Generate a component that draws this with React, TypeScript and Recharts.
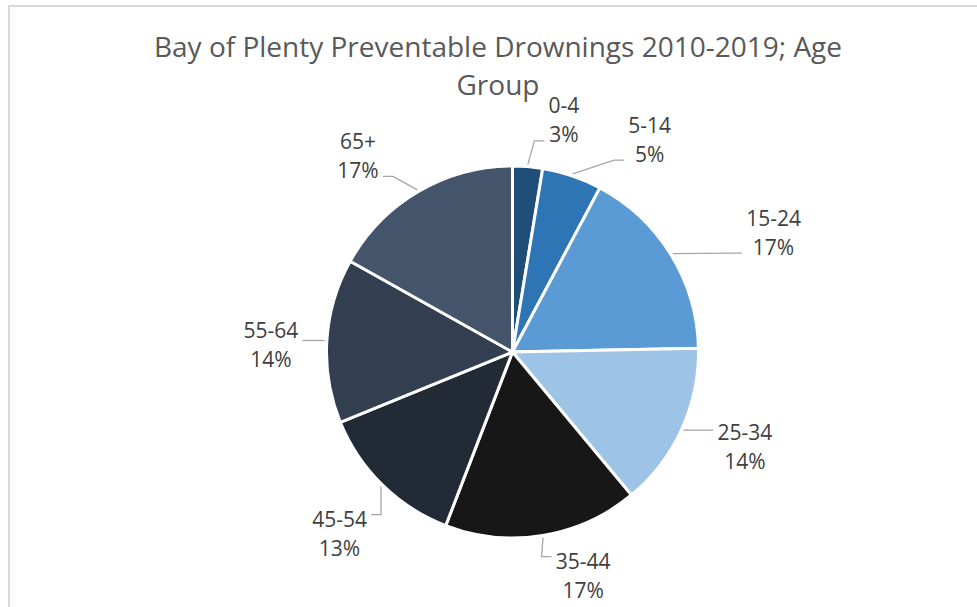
import { PieChart, Pie, Cell } from "recharts";

const ageGroups = ["0-4", "5-14", "15-24", "25-34", "35-44", "45-54", "55-64", "65+"];
const drownings = [2, 4, 13, 11, 13, 10, 11, 13];
const sliceColors = ["#1F4E79", "#2E75B6", "#5B9BD5", "#9DC3E6", "#171717", "#222A35", "#333F50", "#44546A"];

const chartData = ageGroups.map((name, i) => ({ name, value: drownings[i] }));

// small nudges so labels sit where Excel put them
const labelNudge: Record<string, [number, number]> = {
  "0-4": [31, 17],
  "5-14": [57, 24],
  "15-24": [48, 11],
  "25-34": [5, -9],
  "35-44": [30, -23],
  "45-54": [2, 3],
  "55-64": [8, 8],
  "65+": [-28, 19],
};

const FONT = "'Open Sans', sans-serif";
const RAD = Math.PI / 180;

function textWidth(s: string) {
  let w = 0;
  for (const c of s) {
    if (c === "-") w += 7;
    else if (c === "%") w += 18;
    else w += 12;
  }
  return w;
}

function renderLabel(props: any) {
  const { cx, cy, midAngle, outerRadius, name, percent } = props;
  const pct = `${Math.round(percent * 100)}%`;
  const [dx, dy] = labelNudge[name] || [0, 0];
  const cos = Math.cos(-midAngle * RAD);
  const sin = Math.sin(-midAngle * RAD);
  const bx = cx + 250 * cos + dx;
  const by = cy + 250 * sin + dy;
  const sx = cx + (outerRadius + 2) * cos;
  const sy = cy + (outerRadius + 2) * sin;

  const half = Math.max(textWidth(name), textWidth(pct)) / 2;
  const left = bx - half;
  const right = bx + half;
  const top = by - 29;
  const bottom = by + 29;

  let pts: string;
  if (sx < left) {
    const ey = Math.min(Math.max(sy, top + 10), bottom - 8);
    pts = `${sx},${sy} ${left - 14},${ey} ${left - 4},${ey}`;
  } else if (sx > right) {
    const ey = Math.min(Math.max(sy, top + 10), bottom - 8);
    pts = `${sx},${sy} ${right + 14},${ey} ${right + 4},${ey}`;
  } else {
    const ey = sy < by ? top - 2 : bottom + 2;
    pts = `${sx},${sy} ${sx},${ey}`;
  }

  return (
    <g>
      <polyline points={pts} fill="none" stroke="#A6A6A6" strokeWidth={1.3} />
      <text x={bx} y={by - 14.5} textAnchor="middle" dominantBaseline="central" fill="#404040" fontSize={21} fontFamily={FONT}>
        {name}
      </text>
      <text x={bx} y={by + 14.5} textAnchor="middle" dominantBaseline="central" fill="#404040" fontSize={21} fontFamily={FONT}>
        {pct}
      </text>
    </g>
  );
}

export default function App() {
  return (
    <div style={{ position: "fixed", left: 0, top: 0, width: 977, height: 607, overflow: "hidden", background: "#fff" }}>
      <div
        style={{
          position: "absolute",
          left: 8,
          top: 5,
          width: 1100,
          height: 800,
          border: "2px solid #D9D9D9",
        }}
      />
      <div
        style={{
          position: "absolute",
          left: 128,
          top: 27,
          width: 740,
          textAlign: "center",
          fontFamily: FONT,
          fontSize: 28,
          lineHeight: "38px",
          color: "#595959",
        }}
      >
        Bay of Plenty Preventable Drownings 2010-2019; Age
        <br />
        Group
      </div>
      <div style={{ position: "absolute", left: 0, top: 0 }}>
        <PieChart width={977} height={607} margin={{ top: 0, right: 0, bottom: 0, left: 0 }}>
          <Pie
            data={chartData}
            dataKey="value"
            nameKey="name"
            cx={512.5}
            cy={352}
            outerRadius={186}
            startAngle={90}
            endAngle={-270}
            stroke="#fff"
            strokeWidth={3}
            label={renderLabel}
            labelLine={false}
            isAnimationActive={false}
          >
            {chartData.map((d, i) => (
              <Cell key={d.name} fill={sliceColors[i]} />
            ))}
          </Pie>
        </PieChart>
      </div>
    </div>
  );
}
